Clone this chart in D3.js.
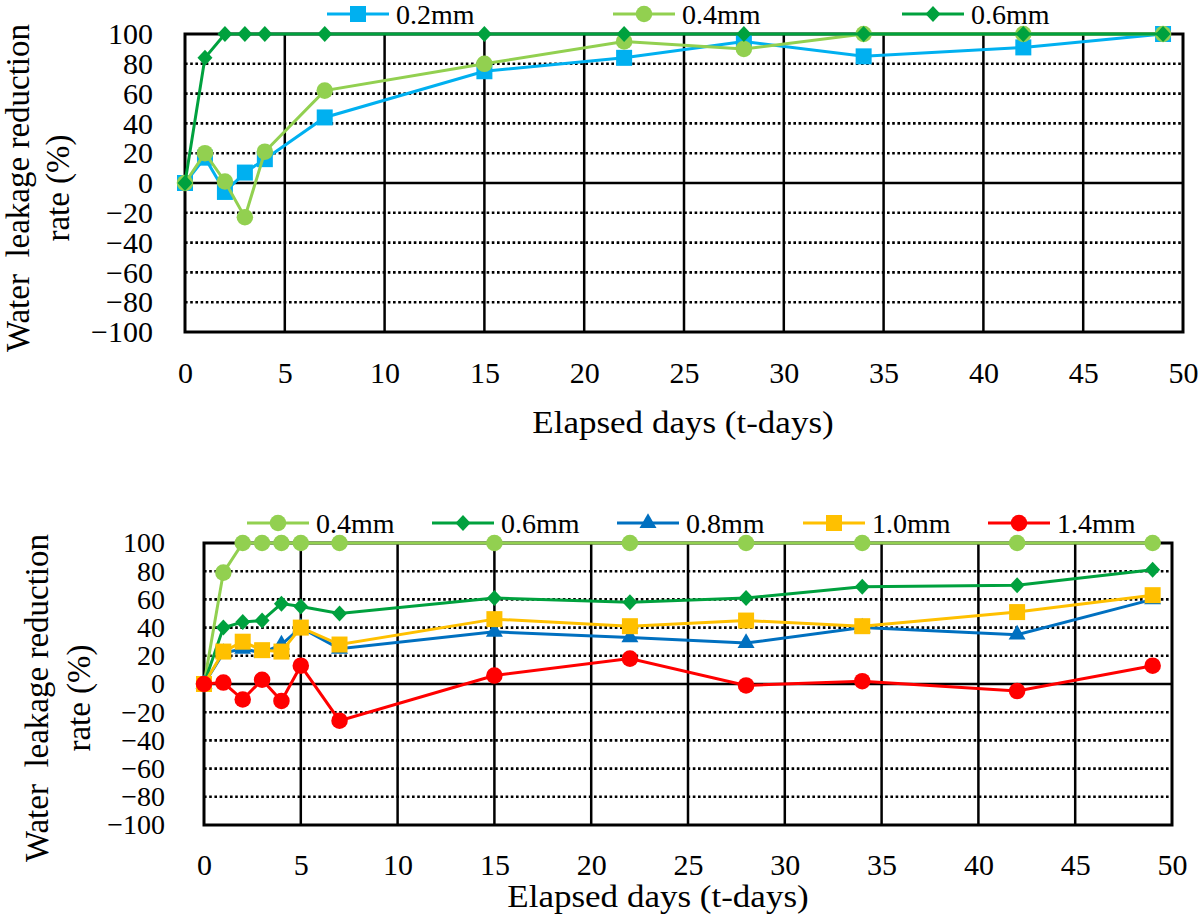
<!DOCTYPE html>
<html>
<head>
<meta charset="utf-8">
<script src="https://cdn.jsdelivr.net/npm/d3@7"></script>
<style>
  body { margin: 0; background: #fff; }
  svg text { font-family: "Liberation Serif", "Times New Roman", Times, serif !important; }
</style>
</head>
<body>
<div id="chart"></div>
<script>
// ---- data ----
const daysTop = [0, 1, 2, 3, 4, 7, 15, 22, 28, 34, 42, 49];
const top02 = [0, 17, -6, 7, 16, 44, 75, 84, 95, 85, 91, 100];
const top04 = [0, 20, 1, -23, 21, 62, 80, 95, 90, 100, 100, 100];
const top06 = [0, 84, 100, 100, 100, 100, 100, 100, 100, 100, 100, 100];

const daysBottom = [0, 1, 2, 3, 4, 5, 7, 15, 22, 28, 34, 42, 49];
const bot04 = [0, 79, 100, 100, 100, 100, 100, 100, 100, 100, 100, 100, 100];
const bot06 = [0, 40, 44, 45, 57, 55, 50, 61, 58, 61, 69, 70, 81];
const bot08 = [0, 22, 25, 22, 28, 40, 25, 37, 33, 29, 40, 35, 60];
const bot10 = [0, 23, 30, 24, 23, 40, 28, 46, 41, 45, 41, 51, 63];
const bot14 = [0, 1, -11, 3, -12, 13, -26, 6, 18, -1, 2, -5, 13];

const xTicks = [0, 5, 10, 15, 20, 25, 30, 35, 40, 45, 50];
const yTicks = [100, 80, 60, 40, 20, 0, -20, -40, -60, -80, -100];

const xTitle = "Elapsed days (t-days)";
const yTitle = ["Water  leakage reduction", "rate (%)"];

const FONT = "Liberation Serif";

const svg = d3.select("#chart")
    .append("svg")
    .attr("width", 1200)
    .attr("height", 920)
    .attr("font-family", FONT)
    .style("background", "#fff");

function diamond(w, h) {
    return `M0,${-h}L${w},0L0,${h}L${-w},0Z`;
}

function markerPath(shape) {
    if (shape === "square") return d3.symbol(d3.symbolSquare, 256)();
    if (shape === "circle") return d3.symbol(d3.symbolCircle, 215)();
    if (shape === "triangle") return d3.symbol(d3.symbolTriangle, 125)();
    return diamond(7.5, 8);
}

function drawPanel(p) {
    const x = d3.scaleLinear().domain([0, 50]).range([p.left, p.right]);
    const y = d3.scaleLinear().domain([-100, 100]).range([p.bottom, p.top]);
    const g = svg.append("g");

    // dotted horizontal grid
    g.selectAll(".hgrid")
        .data(yTicks.filter(v => v !== 0 && Math.abs(v) !== 100))
        .enter().append("line")
        .attr("x1", p.left).attr("x2", p.right)
        .attr("y1", d => y(d)).attr("y2", d => y(d))
        .attr("stroke", "#000")
        .attr("stroke-width", 2.6)
        .attr("stroke-dasharray", "2.6,2.6");

    // solid vertical grid
    g.selectAll(".vgrid")
        .data(xTicks.filter(v => v > 0 && v < 50))
        .enter().append("line")
        .attr("x1", d => x(d)).attr("x2", d => x(d))
        .attr("y1", p.top).attr("y2", p.bottom)
        .attr("stroke", "#000")
        .attr("stroke-width", 2.5);

    // zero line
    g.append("line")
        .attr("x1", p.left).attr("x2", p.right)
        .attr("y1", y(0)).attr("y2", y(0))
        .attr("stroke", "#000").attr("stroke-width", 2.5);

    // frame
    g.append("rect")
        .attr("x", p.left).attr("y", p.top)
        .attr("width", p.right - p.left).attr("height", p.bottom - p.top)
        .attr("fill", "none").attr("stroke", "#000").attr("stroke-width", 3);

    // axes
    const ya = g.append("g")
        .attr("transform", `translate(${p.left},0)`)
        .call(d3.axisLeft(y).tickValues(yTicks).tickSize(0).tickPadding(p.left - p.yLabelRight));
    ya.attr("font-family", FONT);
    ya.select(".domain").remove();
    ya.selectAll("text")
        .style("font-size", p.yTickSize + "px")
        .attr("fill", "#000");

    const xa = g.append("g")
        .attr("transform", `translate(0,${p.bottom})`)
        .call(d3.axisBottom(x).tickValues(xTicks).tickSize(0));
    xa.attr("font-family", FONT);
    xa.select(".domain").remove();
    xa.selectAll("text")
        .attr("y", p.xLabelBase - p.bottom)
        .attr("dy", null)
        .style("font-size", "30px")
        .attr("fill", "#000");

    // titles
    g.append("text")
        .attr("transform", `translate(${p.xTitleX},${p.xTitleBase}) scale(1.13,1)`)
        .attr("text-anchor", "middle")
        .style("font-size", "31px")
        .text(xTitle);

    yTitle.forEach((t, i) => {
        g.append("text")
            .attr("transform", `translate(${p.yTitleX[i]},${p.yTitleY}) rotate(-90)`)
            .attr("text-anchor", "middle")
            .attr("dy", "0.35em")
            .style("font-size", "33px")
            .style("white-space", "pre")
            .text(t);
    });

    // series
    const line = d3.line().x(d => x(d[0])).y(d => y(d[1]));
    p.series.forEach(s => {
        const pts = p.days.map((d, i) => [d, s.values[i]]);
        const sg = g.append("g");
        sg.append("path")
            .attr("d", line(pts))
            .attr("fill", "none")
            .attr("stroke", s.color)
            .attr("stroke-width", 3);
        sg.selectAll("path.m")
            .data(pts)
            .enter().append("path")
            .attr("class", "m")
            .attr("d", markerPath(s.shape))
            .attr("transform", d => `translate(${x(d[0])},${y(d[1])})`)
            .attr("fill", s.color);
    });

    // legend
    p.series.forEach(s => {
        const lg = g.append("g");
        lg.append("line")
            .attr("x1", s.lx).attr("x2", s.lx + 62)
            .attr("y1", p.legendY).attr("y2", p.legendY)
            .attr("stroke", s.color).attr("stroke-width", 3);
        lg.append("path")
            .attr("d", markerPath(s.shape))
            .attr("transform", `translate(${s.lx + 31},${p.legendY})`)
            .attr("fill", s.color);
        lg.append("text")
            .attr("x", s.lx + 69)
            .attr("y", p.legendY)
            .attr("dy", "0.35em")
            .style("font-size", "28px")
            .text(s.name);
    });
}

drawPanel({
    left: 185, right: 1183, top: 34, bottom: 332,
    yLabelRight: 153, yTickSize: 30, xLabelBase: 383,
    xTitleX: 683, xTitleBase: 433,
    yTitleX: [17, 57], yTitleY: 188,
    legendY: 14,
    days: daysTop,
    series: [
        { name: "0.2mm", values: top02, color: "#00B0F0", shape: "square", lx: 327 },
        { name: "0.4mm", values: top04, color: "#92D050", shape: "circle", lx: 613 },
        { name: "0.6mm", values: top06, color: "#00A13E", shape: "diamond", lx: 902 }
    ]
});

drawPanel({
    left: 204, right: 1172, top: 543, bottom: 825,
    yLabelRight: 165, yTickSize: 28, xLabelBase: 875,
    xTitleX: 658, xTitleBase: 907,
    yTitleX: [36, 78], yTitleY: 698,
    legendY: 523,
    days: daysBottom,
    series: [
        { name: "0.4mm", values: bot04, color: "#92D050", shape: "circle", lx: 247 },
        { name: "0.6mm", values: bot06, color: "#00A13E", shape: "diamond", lx: 432 },
        { name: "0.8mm", values: bot08, color: "#0070C0", shape: "triangle", lx: 617 },
        { name: "1.0mm", values: bot10, color: "#FFC000", shape: "square", lx: 803 },
        { name: "1.4mm", values: bot14, color: "#FF0000", shape: "circle", lx: 988 }
    ]
});
</script>
</body>
</html>
